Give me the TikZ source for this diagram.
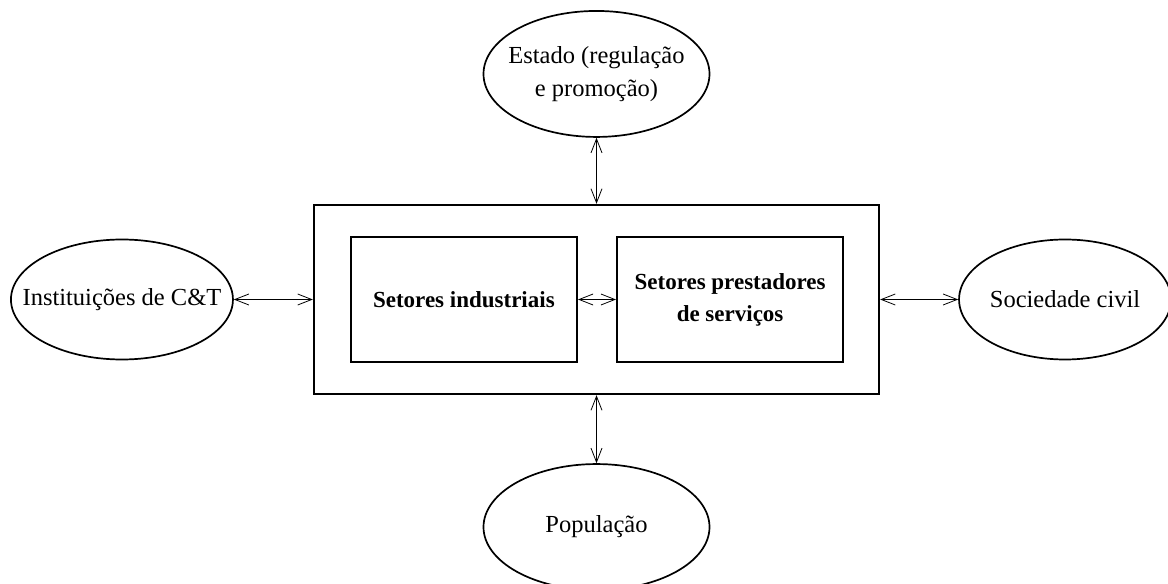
\documentclass[tikz,border=0pt]{standalone}
\usepackage{fontspec}
\setmainfont{Liberation Serif}
\usepackage{tikz}
\usetikzlibrary{arrows.meta,positioning,shapes.geometric}
\tikzstyle{every actor} = []
\tikzstyle{link} = [{Straight Barb[length=14pt,width=11pt]}-{Straight Barb[length=14pt,width=11pt]}, draw, line width=0.8pt]
\tikzstyle{frame} = [rectangle, draw, black, line width=2.4pt,
minimum width=565pt, minimum height=189pt]
\tikzstyle{sector} = [rectangle, draw, black, line width=2.2pt,
minimum width=226pt, minimum height=125pt, align=center,
font=\fontsize{23}{32}\selectfont\bfseries]
\tikzstyle{actor} = [ellipse, draw, black, line width=1.7pt, inner xsep=-25pt,
minimum width=226pt, minimum height=126pt, align=center,
font=\fontsize{24.5}{33}\selectfont, every actor]

\begin{document}
\begin{tikzpicture}
	\useasboundingbox (0,0) rectangle (1168pt,584pt);
	\node[frame] (box) at (596.5pt,284.5pt) {};
	\node[sector] (industria) [right=37pt of box.west] {Setores industriais};
	\node[sector] (servicos) [right=38pt of industria] {Setores prestadores\\de servi\c{c}os};

	\node[actor] (estado) [above=66pt of box] {Estado (regula\c{c}\~ao\\e promo\c{c}\~ao)};
	\node[actor] (populacao) [below=68pt of box] {Popula\c{c}\~ao};
	\node[actor, minimum width=222pt, minimum height=120pt] (ct) [left=79pt of box] {Institui\c{c}\~oes de C\&T};
	\node[actor, minimum width=212pt, minimum height=120pt] (civil) [right=78pt of box] {Sociedade civil};

	\draw[link] (ct) -- (ct -| box.west);
	\draw[link] (box.east |- civil) -- (civil);
	\draw[link] (estado) -- (box);
	\draw[link] (box) -- (populacao);
	\draw[link] (industria) -- (servicos);
\end{tikzpicture}
\end{document}
